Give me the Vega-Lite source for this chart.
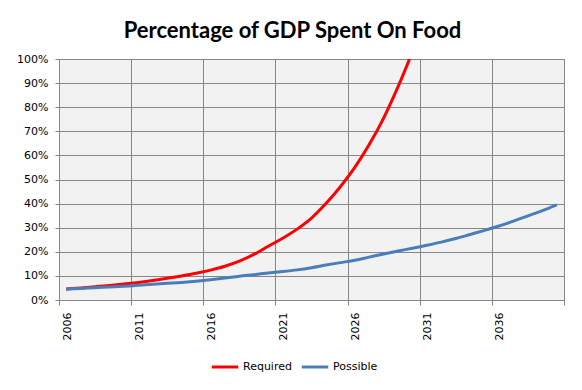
{
  "$schema": "https://vega.github.io/schema/vega-lite/v6.json",
  "width": 505,
  "height": 241,
  "autosize": {"type": "none"},
  "padding": {"left": 59, "top": 59, "right": 18, "bottom": 90},
  "background": "white",
  "title": {
    "text": "Percentage of GDP Spent On Food",
    "font": "Lato",
    "fontSize": 22,
    "fontWeight": "bold",
    "color": "black",
    "anchor": "middle",
    "offset": 10,
    "dx": -19
  },
  "data": {
    "values": [
      {"year": 2006, "series": "Required", "value": 0.046},
      {"year": 2007, "series": "Required", "value": 0.050},
      {"year": 2008, "series": "Required", "value": 0.055},
      {"year": 2009, "series": "Required", "value": 0.060},
      {"year": 2010, "series": "Required", "value": 0.066},
      {"year": 2011, "series": "Required", "value": 0.073},
      {"year": 2012, "series": "Required", "value": 0.081},
      {"year": 2013, "series": "Required", "value": 0.090},
      {"year": 2014, "series": "Required", "value": 0.100},
      {"year": 2015, "series": "Required", "value": 0.111},
      {"year": 2016, "series": "Required", "value": 0.124},
      {"year": 2017, "series": "Required", "value": 0.140},
      {"year": 2018, "series": "Required", "value": 0.161},
      {"year": 2019, "series": "Required", "value": 0.189},
      {"year": 2020, "series": "Required", "value": 0.223},
      {"year": 2021, "series": "Required", "value": 0.256},
      {"year": 2022, "series": "Required", "value": 0.294},
      {"year": 2023, "series": "Required", "value": 0.340},
      {"year": 2024, "series": "Required", "value": 0.400},
      {"year": 2025, "series": "Required", "value": 0.470},
      {"year": 2026, "series": "Required", "value": 0.550},
      {"year": 2027, "series": "Required", "value": 0.645},
      {"year": 2028, "series": "Required", "value": 0.755},
      {"year": 2029, "series": "Required", "value": 0.885},
      {"year": 2030, "series": "Required", "value": 1.03},
      {"year": 2006, "series": "Possible", "value": 0.045},
      {"year": 2007, "series": "Possible", "value": 0.048},
      {"year": 2008, "series": "Possible", "value": 0.051},
      {"year": 2009, "series": "Possible", "value": 0.054},
      {"year": 2010, "series": "Possible", "value": 0.057},
      {"year": 2011, "series": "Possible", "value": 0.061},
      {"year": 2012, "series": "Possible", "value": 0.065},
      {"year": 2013, "series": "Possible", "value": 0.069},
      {"year": 2014, "series": "Possible", "value": 0.073},
      {"year": 2015, "series": "Possible", "value": 0.078},
      {"year": 2016, "series": "Possible", "value": 0.084},
      {"year": 2017, "series": "Possible", "value": 0.091},
      {"year": 2018, "series": "Possible", "value": 0.099},
      {"year": 2019, "series": "Possible", "value": 0.105},
      {"year": 2020, "series": "Possible", "value": 0.112},
      {"year": 2021, "series": "Possible", "value": 0.118},
      {"year": 2022, "series": "Possible", "value": 0.125},
      {"year": 2023, "series": "Possible", "value": 0.134},
      {"year": 2024, "series": "Possible", "value": 0.145},
      {"year": 2025, "series": "Possible", "value": 0.155},
      {"year": 2026, "series": "Possible", "value": 0.165},
      {"year": 2027, "series": "Possible", "value": 0.178},
      {"year": 2028, "series": "Possible", "value": 0.191},
      {"year": 2029, "series": "Possible", "value": 0.203},
      {"year": 2030, "series": "Possible", "value": 0.215},
      {"year": 2031, "series": "Possible", "value": 0.227},
      {"year": 2032, "series": "Possible", "value": 0.240},
      {"year": 2033, "series": "Possible", "value": 0.255},
      {"year": 2034, "series": "Possible", "value": 0.272},
      {"year": 2035, "series": "Possible", "value": 0.289},
      {"year": 2036, "series": "Possible", "value": 0.307},
      {"year": 2037, "series": "Possible", "value": 0.327},
      {"year": 2038, "series": "Possible", "value": 0.349},
      {"year": 2039, "series": "Possible", "value": 0.371},
      {"year": 2040, "series": "Possible", "value": 0.395}
    ]
  },
  "mark": {"type": "line", "strokeWidth": 3, "interpolate": "monotone", "clip": true},
  "encoding": {
    "x": {
      "field": "year",
      "type": "quantitative",
      "scale": {"domain": [2005.5, 2040.5], "nice": false, "zero": false},
      "axis": {
        "title": null,
        "values": [2005.5, 2010.5, 2015.5, 2020.5, 2025.5, 2030.5, 2035.5, 2040.5],
        "labelExpr": "datum.value < 2040 ? format(datum.value + 0.5, 'd') : ''",
        "labelOffset": 8,
        "labelAngle": 270,
        "tickSize": 5,
        "labelPadding": 7
      }
    },
    "y": {
      "field": "value",
      "type": "quantitative",
      "scale": {"domain": [0, 1], "nice": false},
      "axis": {
        "title": null,
        "values": [0, 0.1, 0.2, 0.3, 0.4, 0.5, 0.6, 0.7, 0.8, 0.9, 1],
        "format": ".0%",
        "tickSize": 4,
        "labelPadding": 7
      }
    },
    "color": {
      "field": "series",
      "type": "nominal",
      "sort": ["Required", "Possible"],
      "scale": {"domain": ["Required", "Possible"], "range": ["#FF0000", "#4A7EBB"]},
      "legend": {
        "orient": "none",
        "legendX": 151,
        "legendY": 293,
        "direction": "horizontal",
        "title": null,
        "symbolType": "stroke",
        "symbolStrokeWidth": 3,
        "symbolSize": 700,
        "labelFont": "DejaVu Sans",
        "labelFontSize": 11,
        "labelColor": "black",
        "columnPadding": 3,
        "labelOffset": 3,
        "padding": 0
      }
    }
  },
  "config": {
    "view": {"fill": "#F2F2F2", "stroke": "#868686", "strokeWidth": 1},
    "axis": {
      "domainColor": "#868686",
      "tickColor": "#868686",
      "gridColor": "#868686",
      "gridOpacity": 1,
      "gridWidth": 1,
      "labelFont": "DejaVu Sans",
      "labelFontSize": 11,
      "labelColor": "black",
      "labelOverlap": false,
      "labelFlush": false
    }
  }
}
